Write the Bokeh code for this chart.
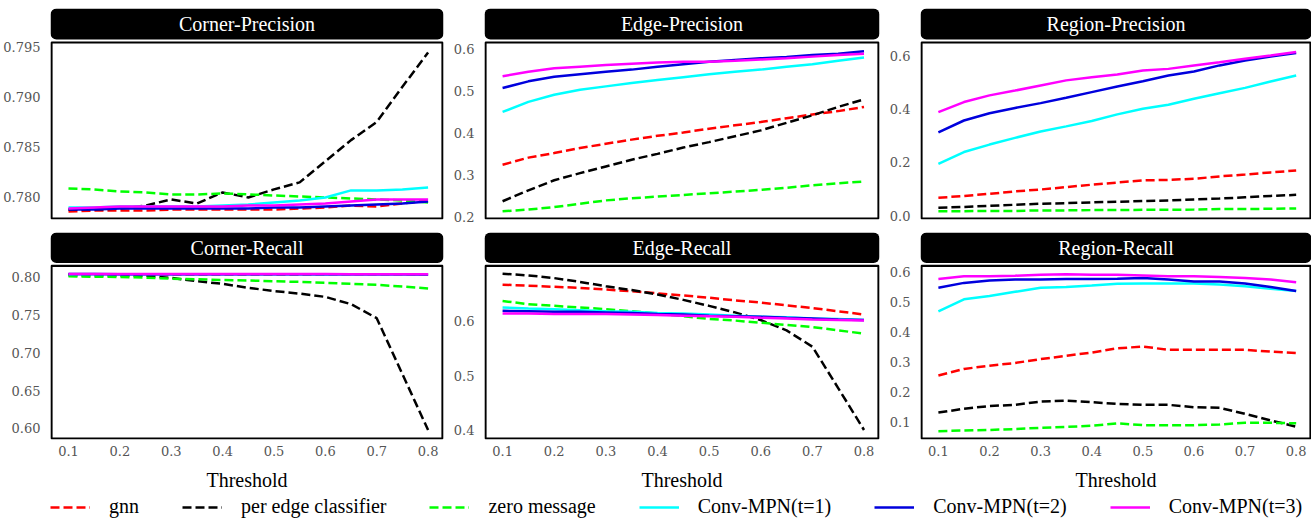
from bokeh.plotting import figure
from bokeh.models import (Range1d, FixedTicker, PrintfTickFormatter, BoxAnnotation,
                          Label, Legend, LegendItem)
from bokeh.layouts import column, row
from bokeh.embed import file_html
from bokeh.resources import INLINE

# ---------------- data ----------------
threshold = [0.10, 0.15, 0.20, 0.25, 0.30, 0.35, 0.40, 0.45, 0.50, 0.55, 0.60, 0.65, 0.70, 0.75, 0.80]
x_ticks = [0.1, 0.2, 0.3, 0.4, 0.5, 0.6, 0.7, 0.8]

series_names = ["gnn", "per edge classifier", "zero message",
                "Conv-MPN(t=1)", "Conv-MPN(t=2)", "Conv-MPN(t=3)"]

# Corner-Precision
gnn_cp = [0.7786, 0.7787, 0.7787, 0.7787, 0.7788, 0.7788, 0.7788, 0.7788, 0.7788, 0.7789, 0.7790, 0.7792, 0.7791, 0.7794, 0.7797]
pec_cp = [0.7788, 0.7788, 0.7789, 0.7792, 0.7798, 0.7794, 0.7805, 0.7800, 0.7808, 0.7815, 0.7836, 0.7857, 0.7875, 0.7910, 0.7944]
zm_cp = [0.7809, 0.7808, 0.7806, 0.7805, 0.7803, 0.7803, 0.7804, 0.7803, 0.7802, 0.7801, 0.7800, 0.7799, 0.7798, 0.7797, 0.7795]
c1_cp = [0.7790, 0.7790, 0.7791, 0.7791, 0.7791, 0.7791, 0.7792, 0.7793, 0.7795, 0.7797, 0.7800, 0.7807, 0.7807, 0.7808, 0.7810]
c2_cp = [0.7788, 0.7788, 0.7789, 0.7789, 0.7789, 0.7789, 0.7789, 0.7789, 0.7790, 0.7790, 0.7791, 0.7792, 0.7793, 0.7794, 0.7796]
c3_cp = [0.7789, 0.7790, 0.7791, 0.7791, 0.7791, 0.7791, 0.7791, 0.7792, 0.7792, 0.7793, 0.7794, 0.7796, 0.7798, 0.7798, 0.7798]

# Edge-Precision
gnn_ep = [0.325, 0.342, 0.353, 0.365, 0.375, 0.385, 0.394, 0.402, 0.411, 0.419, 0.427, 0.436, 0.445, 0.453, 0.463]
pec_ep = [0.238, 0.264, 0.288, 0.305, 0.321, 0.337, 0.351, 0.366, 0.379, 0.393, 0.407, 0.425, 0.443, 0.463, 0.481]
zm_ep = [0.214, 0.218, 0.224, 0.232, 0.240, 0.245, 0.249, 0.253, 0.257, 0.261, 0.265, 0.270, 0.276, 0.281, 0.285]
c1_ep = [0.451, 0.475, 0.492, 0.504, 0.512, 0.520, 0.527, 0.534, 0.541, 0.547, 0.552, 0.559, 0.565, 0.573, 0.581]
c2_ep = [0.508, 0.524, 0.535, 0.541, 0.547, 0.552, 0.559, 0.565, 0.571, 0.575, 0.579, 0.582, 0.587, 0.590, 0.596]
c3_ep = [0.536, 0.547, 0.555, 0.559, 0.563, 0.566, 0.569, 0.571, 0.571, 0.573, 0.576, 0.579, 0.583, 0.587, 0.590]

# Region-Precision
gnn_rp = [0.068, 0.075, 0.083, 0.092, 0.099, 0.108, 0.117, 0.125, 0.133, 0.135, 0.139, 0.148, 0.155, 0.163, 0.170]
pec_rp = [0.031, 0.034, 0.038, 0.042, 0.046, 0.048, 0.051, 0.053, 0.056, 0.058, 0.062, 0.065, 0.070, 0.075, 0.079]
zm_rp = [0.018, 0.018, 0.019, 0.019, 0.021, 0.021, 0.022, 0.022, 0.023, 0.023, 0.024, 0.026, 0.026, 0.027, 0.028]
c1_rp = [0.195, 0.239, 0.267, 0.292, 0.316, 0.335, 0.355, 0.380, 0.401, 0.416, 0.438, 0.459, 0.479, 0.503, 0.525]
c2_rp = [0.313, 0.357, 0.384, 0.404, 0.422, 0.442, 0.463, 0.484, 0.504, 0.525, 0.540, 0.563, 0.581, 0.596, 0.609]
c3_rp = [0.388, 0.426, 0.451, 0.469, 0.488, 0.507, 0.519, 0.529, 0.544, 0.550, 0.563, 0.575, 0.588, 0.600, 0.613]

# Corner-Recall
gnn_cr = [0.8035, 0.8035, 0.8034, 0.8034, 0.8034, 0.8033, 0.8033, 0.8033, 0.8033, 0.8032, 0.8032, 0.8032, 0.8031, 0.8031, 0.8031]
pec_cr = [0.8022, 0.8022, 0.8021, 0.8017, 0.7987, 0.7944, 0.7909, 0.7857, 0.7814, 0.7780, 0.7737, 0.7641, 0.7456, 0.6717, 0.5978]
zm_cr = [0.8009, 0.8004, 0.8000, 0.7991, 0.7978, 0.7970, 0.7961, 0.7953, 0.7944, 0.7935, 0.7922, 0.7909, 0.7896, 0.7875, 0.7849]
c1_cr = [0.8037, 0.8037, 0.8036, 0.8036, 0.8036, 0.8036, 0.8035, 0.8035, 0.8035, 0.8035, 0.8034, 0.8034, 0.8034, 0.8034, 0.8033]
c2_cr = [0.8038, 0.8038, 0.8037, 0.8037, 0.8037, 0.8037, 0.8036, 0.8036, 0.8036, 0.8036, 0.8035, 0.8035, 0.8035, 0.8035, 0.8034]
c3_cr = [0.8039, 0.8039, 0.8039, 0.8039, 0.8039, 0.8038, 0.8038, 0.8038, 0.8038, 0.8038, 0.8038, 0.8037, 0.8037, 0.8037, 0.8037]

# Edge-Recall
gnn_er = [0.667, 0.665, 0.663, 0.661, 0.658, 0.655, 0.651, 0.647, 0.643, 0.638, 0.634, 0.629, 0.624, 0.618, 0.612]
pec_er = [0.687, 0.684, 0.679, 0.672, 0.664, 0.657, 0.649, 0.639, 0.628, 0.616, 0.602, 0.583, 0.553, 0.477, 0.400]
zm_er = [0.637, 0.631, 0.628, 0.625, 0.622, 0.618, 0.614, 0.609, 0.604, 0.601, 0.597, 0.593, 0.589, 0.583, 0.577]
c1_er = [0.625, 0.623, 0.622, 0.620, 0.618, 0.617, 0.615, 0.614, 0.612, 0.610, 0.608, 0.607, 0.605, 0.604, 0.602]
c2_er = [0.619, 0.618, 0.617, 0.617, 0.616, 0.615, 0.613, 0.612, 0.610, 0.609, 0.608, 0.606, 0.605, 0.603, 0.602]
c3_er = [0.614, 0.614, 0.613, 0.613, 0.613, 0.612, 0.611, 0.610, 0.609, 0.608, 0.606, 0.605, 0.603, 0.602, 0.601]

# Region-Recall
gnn_rr = [0.255, 0.277, 0.288, 0.297, 0.310, 0.321, 0.332, 0.346, 0.352, 0.341, 0.341, 0.341, 0.341, 0.335, 0.330]
pec_rr = [0.131, 0.144, 0.153, 0.157, 0.168, 0.171, 0.166, 0.160, 0.157, 0.157, 0.149, 0.147, 0.127, 0.105, 0.084]
zm_rr = [0.069, 0.071, 0.073, 0.076, 0.080, 0.083, 0.087, 0.095, 0.089, 0.089, 0.089, 0.091, 0.097, 0.097, 0.095]
c1_rr = [0.470, 0.510, 0.521, 0.535, 0.549, 0.551, 0.556, 0.562, 0.563, 0.563, 0.563, 0.560, 0.554, 0.545, 0.538]
c2_rr = [0.549, 0.565, 0.573, 0.576, 0.576, 0.578, 0.578, 0.579, 0.581, 0.576, 0.570, 0.570, 0.563, 0.551, 0.538]
c3_rr = [0.578, 0.587, 0.587, 0.589, 0.592, 0.594, 0.592, 0.592, 0.590, 0.587, 0.587, 0.585, 0.581, 0.576, 0.567]

# y tick values per panel
ticks_cp = [0.780, 0.785, 0.790, 0.795]
ticks_ep = [0.2, 0.3, 0.4, 0.5, 0.6]
ticks_rp = [0.0, 0.2, 0.4, 0.6]
ticks_cr = [0.60, 0.65, 0.70, 0.75, 0.80]
ticks_er = [0.4, 0.5, 0.6]
ticks_rr = [0.1, 0.2, 0.3, 0.4, 0.5, 0.6]

# ---------------- styles ----------------
COLORS = ["#ff0000", "#000000", "#00ff00", "#00ffff", "#0000dd", "#ff00ff"]
DASHED = [True, True, True, False, False, False]
FONT = "Liberation Serif"
TICK_FONT = "DejaVu Serif"
LW = 2.5
DASH = "9 4"
X0, X1 = 0.065, 0.83
FH = 211       # frame height (title bar + gap + plot box)
BOX_H = 177    # plot box height
TITLE_GAP = 3


def panel(title, data, y0, y1, yticks, yfmt, width, bl, br, bt, bb, show_x):
    fw = width - bl - br
    height = bt + FH + bb
    ytop = y0 + (y1 - y0) * FH / BOX_H
    dx = (X1 - X0) / fw
    dy = (ytop - y0) / FH
    p = figure(width=width, height=height, x_range=Range1d(X0, X1),
               y_range=Range1d(y0, ytop), output_backend="svg",
               toolbar_location=None, min_border_left=bl, min_border_right=br,
               min_border_top=bt, min_border_bottom=bb,
               x_axis_location="below" if show_x else None)
    p.outline_line_color = None
    p.grid.visible = False
    p.background_fill_color = "white"
    p.border_fill_color = "white"

    for vals, color, dashed in zip(data, COLORS, DASHED):
        p.line(threshold, vals, line_color=color, line_width=LW,
               line_dash=DASH if dashed else "solid")

    # plot box
    p.add_layout(BoxAnnotation(left=X0 + dx, right=X1 - dx, bottom=y0 + dy, top=y1,
                               fill_alpha=0, line_color="black", line_alpha=1,
                               line_width=2.2))
    # title bar
    p.add_layout(BoxAnnotation(left=X0, right=X1, bottom=y1 + TITLE_GAP * dy, top=ytop,
                               fill_color="black", fill_alpha=1, line_color=None,
                               border_radius=6))
    p.add_layout(Label(x=(X0 + X1) / 2, y=(y1 + TITLE_GAP * dy + ytop) / 2, text=title,
                       text_align="center", text_baseline="middle", text_color="white",
                       text_font=FONT, text_font_size="20px"))

    ya = p.yaxis[0]
    ya.ticker = FixedTicker(ticks=yticks)
    ya.formatter = PrintfTickFormatter(format=yfmt)
    ya.axis_line_color = None
    ya.major_tick_line_color = None
    ya.minor_tick_line_color = None
    ya.major_label_standoff = 4
    ya.major_label_text_font = TICK_FONT
    ya.major_label_text_font_size = "13px"
    ya.major_label_text_color = "#555555"

    if show_x:
        xa = p.xaxis[0]
        xa.ticker = FixedTicker(ticks=x_ticks)
        xa.formatter = PrintfTickFormatter(format="%.1f")
        xa.axis_line_color = None
        xa.major_tick_line_color = None
        xa.minor_tick_line_color = None
        xa.major_label_standoff = 0
        xa.major_label_text_font = TICK_FONT
        xa.major_label_text_font_size = "13px"
        xa.major_label_text_color = "#555555"
        xa.axis_label = "Threshold"
        xa.axis_label_text_font = FONT
        xa.axis_label_text_font_size = "20px"
        xa.axis_label_text_font_style = "normal"
        xa.axis_label_text_color = "black"
        xa.axis_label_standoff = 10
    return p


W = [444, 436, 431]
BL = [50, 40, 40]
BR = [1, 1, 0]
BT1, BB1 = 8, 10
BT2, BB2 = 3, 50

p_cp = panel("Corner-Precision", [gnn_cp, pec_cp, zm_cp, c1_cp, c2_cp, c3_cp],
             0.77781, 0.7954, ticks_cp, "%.3f", W[0], BL[0], BR[0], BT1, BB1, False)
p_ep = panel("Edge-Precision", [gnn_ep, pec_ep, zm_ep, c1_ep, c2_ep, c3_ep],
             0.1944, 0.6167, ticks_ep, "%.1f", W[1], BL[1], BR[1], BT1, BB1, False)
p_rp = panel("Region-Precision", [gnn_rp, pec_rp, zm_rp, c1_rp, c2_rp, c3_rp],
             -0.0131, 0.6486, ticks_rp, "%.1f", W[2], BL[2], BR[2], BT1, BB1, False)
p_cr = panel("Corner-Recall", [gnn_cr, pec_cr, zm_cr, c1_cr, c2_cr, c3_cr],
             0.5853, 0.8147, ticks_cr, "%.2f", W[0], BL[0], BR[0], BT2, BB2, True)
p_er = panel("Edge-Recall", [gnn_er, pec_er, zm_er, c1_er, c2_er, c3_er],
             0.3825, 0.7015, ticks_er, "%.1f", W[1], BL[1], BR[1], BT2, BB2, True)
p_rr = panel("Region-Recall", [gnn_rr, pec_rr, zm_rr, c1_rr, c2_rr, c3_rr],
             0.041, 0.622, ticks_rr, "%.1f", W[2], BL[2], BR[2], BT2, BB2, True)

# legend strip (its sample lines carry real data but lie outside the strip's view)
lg = figure(width=sum(W), height=27, x_range=Range1d(10, 11), y_range=Range1d(0, 1),
            output_backend="svg", toolbar_location=None, x_axis_location=None,
            y_axis_location=None, min_border=0)
lg.outline_line_color = None
lg.grid.visible = False
items = []
legend_data = [gnn_rr, pec_rr, zm_rr, c1_rr, c2_rr, c3_rr]
for vals, color, dashed, name in zip(legend_data, COLORS, DASHED, series_names):
    r = lg.line(threshold, vals, line_color=color, line_width=LW,
                line_dash=DASH if dashed else "solid")
    items.append(LegendItem(label=name, renderers=[r]))
legend = Legend(items=items, orientation="horizontal", location=(50, 2),
                glyph_width=40, glyph_height=20, label_height=20,
                label_standoff=19, spacing=43, padding=0, margin=0,
                label_text_font=FONT, label_text_font_size="20px",
                label_text_color="black", border_line_color=None,
                background_fill_alpha=0)
lg.add_layout(legend, "center")

layout = column(row(p_cp, p_ep, p_rp), row(p_cr, p_er, p_rr), lg)

open("out.html", "w").write(file_html(layout, INLINE))
